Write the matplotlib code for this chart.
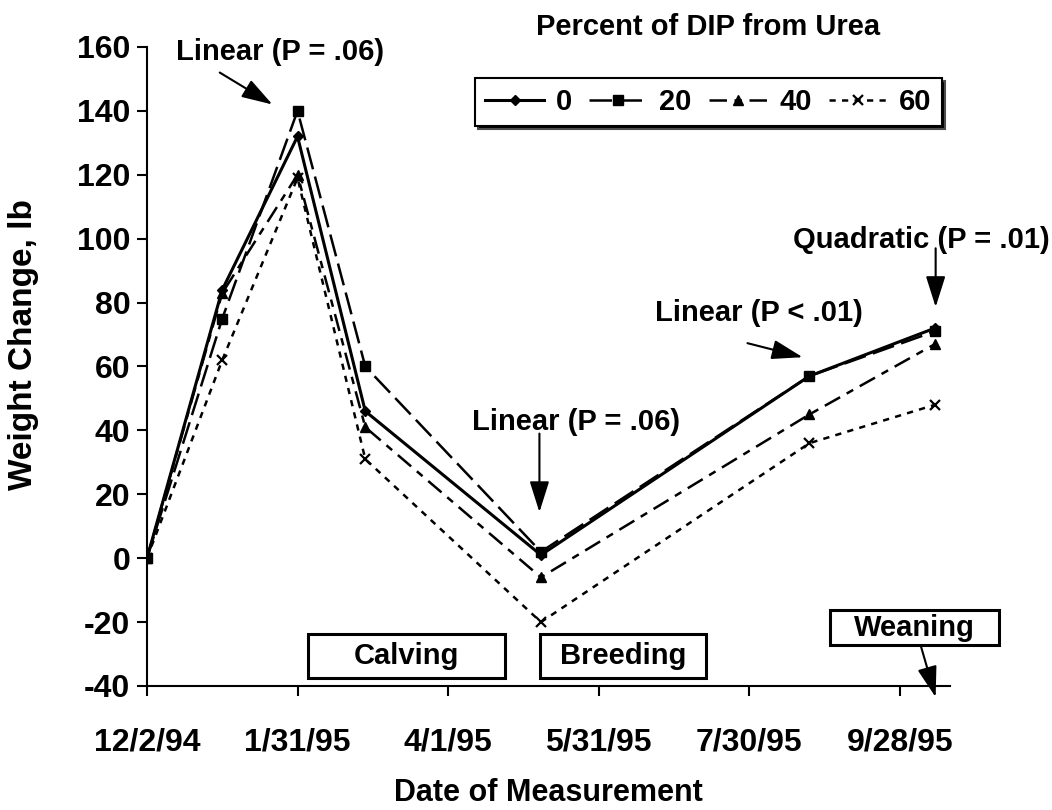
import numpy as np
import matplotlib
matplotlib.use("Agg")
import matplotlib.pyplot as plt
import matplotlib.dates as mdates
from matplotlib.lines import Line2D
from matplotlib.patches import Rectangle

# measurement dates and weight change (lb) for each urea level
dates = np.array(["1994-12-02", "1995-01-01", "1995-01-31", "1995-02-27",
                  "1995-05-08", "1995-08-23", "1995-10-12"], dtype="datetime64[D]")
urea_0 = [0, 84, 132, 46, 1, 57, 72]
urea_20 = [0, 75, 140, 60, 2, 57, 71]
urea_40 = [0, 83, 120, 41, -6, 45, 67]
urea_60 = [0, 62, 119, 31, -20, 36, 48]
series_labels = ["0", "20", "40", "60"]

tick_dates = np.array(["1994-12-02", "1995-01-31", "1995-04-01", "1995-05-31",
                       "1995-07-30", "1995-09-28"], dtype="datetime64[D]")
tick_labels = ["12/2/94", "1/31/95", "4/1/95", "5/31/95", "7/30/95", "9/28/95"]

plt.rcParams["font.family"] = ["Liberation Sans", "DejaVu Sans"]
plt.rcParams["font.weight"] = "bold"
plt.rcParams["axes.unicode_minus"] = False

fig = plt.figure(figsize=(10.52, 8.10), dpi=100)
ax = fig.add_axes([0.1397, 0.1531, 0.9030 - 0.1397, 0.942 - 0.1531])

x0 = mdates.date2num(np.datetime64("1994-12-02"))


def day(n):
    # position n days after the first measurement
    return x0 + n


xd = mdates.date2num(dates)
lw = 1.8
styles = [
    dict(lw=2.2, marker="D", ms=5),
    dict(lw=lw, marker="s", ms=7, dashes=(9, 3)),
    dict(lw=lw, marker="^", ms=7, dashes=(7, 3, 3, 3)),
    dict(lw=lw, marker="x", ms=7, mew=1.6, dashes=(2.5, 2.5)),
]
for vals, st in zip([urea_0, urea_20, urea_40, urea_60], styles):
    ax.plot(xd, vals, color="k", **st)

ax.set_xlim(day(0), day(320))
ax.set_ylim(-40, 160)
ax.set_yticks(range(-40, 161, 20))
ax.set_xticks(mdates.date2num(tick_dates))
ax.set_xticklabels(tick_labels)
ax.tick_params(axis="both", labelsize=23, width=1.5, length=7, direction="out", pad=5)
ax.tick_params(axis="x", pad=23)
for lab in ax.get_xticklabels() + ax.get_yticklabels():
    lab.set_fontweight("bold")

for s in ["top", "right"]:
    ax.spines[s].set_visible(False)
for s in ["left", "bottom"]:
    ax.spines[s].set_linewidth(1.5)

ax.set_ylabel("Weight Change, lb", fontsize=24, fontweight="bold")
ax.yaxis.set_label_coords(-0.135, 0.535)
ax.set_xlabel("Date of Measurement", fontsize=22, fontweight="bold")
ax.xaxis.label.set_verticalalignment("center")
ax.xaxis.set_label_coords(0.5, -0.168)

# legend
handles = [Line2D([], [], color="k", **st) for st in styles]
leg = fig.legend(handles, series_labels, loc="center",
                 bbox_to_anchor=((477 + 940) / 2 / 1052, 1 - 102 / 810),
                 ncol=4, frameon=True, fancybox=False,
                 shadow={"ox": 2, "oy": -2, "facecolor": "k", "alpha": 1},
                 handlelength=2.0, handletextpad=0.4, columnspacing=0.6,
                 prop={"size": 21, "weight": "bold"}, borderpad=0.35)
leg.get_frame().set_edgecolor("k")
leg.get_frame().set_linewidth(1.5)
fig.text((477 + 940) / 2 / 1052, 1 - 27 / 810, "Percent of DIP from Urea",
         ha="center", va="center", fontsize=21, fontweight="bold")

# annotations
arrow = dict(arrowstyle="-|>,head_length=0.95,head_width=0.3", color="k", lw=1.5,
             shrinkA=0, shrinkB=0, mutation_scale=20)
txt = dict(fontsize=21, fontweight="bold", ha="center", va="center")

ax.text(day(53), 158.5, "Linear (P = .06)", clip_on=False, **txt)
ax.annotate("", xy=(day(50), 142), xytext=(day(29), 152), arrowprops=arrow,
            annotation_clip=False)

ax.text(day(171), 42.6, "Linear (P = .06)", **txt)
ax.annotate("", xy=(day(156.4), 14.4), xytext=(day(156.4), 39), arrowprops=arrow)

ax.text(day(244), 76.7, "Linear (P < .01)", **txt)
ax.annotate("", xy=(day(261.3), 62.9), xytext=(day(239.3), 67.3), arrowprops=arrow)

ax.text(day(308.7), 99.5, "Quadratic (P = .01)", clip_on=False, **txt)
ax.annotate("", xy=(day(314.3), 78.6), xytext=(day(314.3), 97), arrowprops=arrow,
            annotation_clip=False)

# event boxes
boxes = [("Calving", 64.2, 142.8, -37.6, -23.8),
         ("Breeding", 156.8, 222.6, -37.6, -23.8),
         ("Weaning", 272.0, 339.4, -27.2, -16.3)]
for name, d0, d1, y0, y1 in boxes:
    ax.add_patch(Rectangle((day(d0), y0), d1 - d0, y1 - y0,
                           facecolor="white", edgecolor="k", lw=2.2,
                           clip_on=False, zorder=5))
    ax.text(day((d0 + d1) / 2), (y0 + y1) / 2, name, fontsize=21,
            fontweight="bold", ha="center", va="center", zorder=6, clip_on=False)

ax.annotate("", xy=(day(314.3), -43.5), xytext=(day(308.3), -27.2), arrowprops=arrow,
            annotation_clip=False)

fig.savefig("out.png", dpi=100)
